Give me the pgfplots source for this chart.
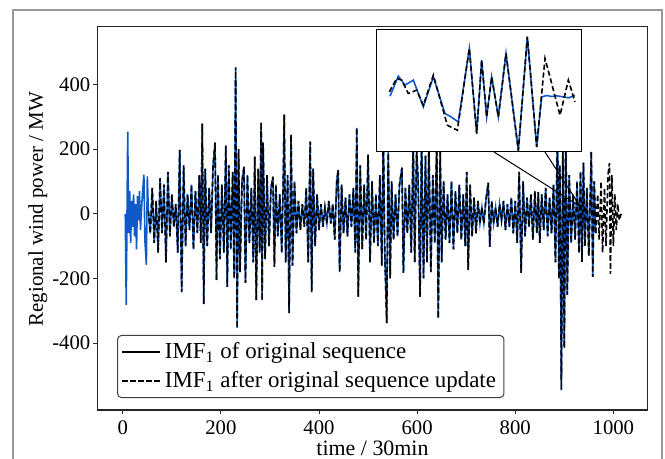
\documentclass[border=0pt]{standalone}
\usepackage{fontspec}
\setmainfont{Liberation Serif}
\usepackage{pgfplots}
\usepackage{pgfplotstable}
\pgfplotsset{compat=1.18}
\definecolor{lineblue}{RGB}{15,90,200}

\pgfplotstableread[row sep=\\]{
t y\\ 5 0\\ 7 -282\\ 10 254\\ 12 -60\\ 14 70\\ 16 -90\\ 18 40\\ 20 -40\\ 22 60\\ 24 -70\\ 26 30\\ 28 -110\\ 30 55\\ 32 -20\\ 34 70\\ 36 -50\\ 38 10\\ 40 60\\ 43 121\\ 45 -80\\ 48 -158\\ 50 116\\ 52 10\\
}\blueStart

\pgfplotstableread[row sep=\\]{
t y\\
52 10\\ 56 -60\\ 60 80\\ 64 -90\\ 68 40\\ 72 -120\\ 76 110\\ 80 -60\\ 84 90\\ 88 -150\\ 92 130\\ 96 -70\\ 100 60\\ 104 -40\\ 108 30\\ 112 -120\\ 116 198\\ 120 -242\\ 124 150\\ 128 -100\\ 132 60\\ 136 -50\\ 140 90\\ 144 -110\\ 148 70\\
152 -60\\ 156 120\\ 159 -90\\ 162 279\\ 165 -279\\ 168 140\\ 172 -100\\ 176 80\\ 180 -60\\ 184 150\\ 188 220\\ 191 -205\\ 194 120\\ 198 -140\\ 202 90\\ 206 -120\\ 210 211\\ 213 -226\\ 216 150\\ 220 -110\\ 224 130\\ 227 -200\\ 230 453\\ 233 -353\\ 236 200\\ 239 -180\\ 243 100\\ 247 146\\ 250 -214\\
254 120\\ 258 -90\\ 262 80\\ 266 -150\\ 269 177\\ 272 -267\\ 276 140\\ 279 -120\\ 282 282\\ 284 -267\\ 286 220\\ 290 -140\\ 294 120\\ 298 -100\\ 302 80\\ 306 115\\ 309 -164\\ 312 90\\ 316 -70\\ 320 60\\ 324 -120\\ 327 100\\ 329 307\\ 332 -150\\ 336 120\\ 339 -307\\ 343 245\\ 346 -160\\ 350 100\\
354 -60\\ 358 40\\ 362 -50\\ 366 30\\ 370 -40\\ 374 80\\ 378 -150\\ 382 223\\ 385 -242\\ 388 140\\ 392 -100\\ 396 60\\ 400 -50\\ 404 30\\ 408 -40\\ 412 20\\ 416 -30\\ 420 40\\ 424 -30\\ 428 30\\ 432 -80\\ 436 100\\ 439 136\\ 442 -180\\ 446 90\\ 450 -60\\
454 50\\ 458 -70\\ 462 60\\ 466 -40\\ 470 80\\ 474 -120\\ 477 266\\ 480 -257\\ 484 150\\ 488 -110\\ 492 90\\ 496 -80\\ 500 183\\ 504 -150\\ 508 100\\ 512 -90\\ 516 60\\ 520 -100\\ 524 120\\ 528 -160\\ 531 260\\ 534 -120\\ 538 -338\\ 541 200\\ 545 -200\\ 548 100\\
552 -80\\ 556 60\\ 560 -70\\ 564 90\\ 569 143\\ 572 -183\\ 576 80\\ 580 -60\\ 584 90\\ 588 -120\\ 592 230\\ 595 -150\\ 599 200\\ 602 100\\ 606 -257\\ 609 250\\ 613 -200\\ 617 180\\ 620 -150\\ 624 210\\ 628 -180\\ 632 120\\ 636 -90\\ 640 240\\ 643 -322\\ 647 200\\ 650 -150\\
654 100\\ 658 -80\\ 662 60\\ 666 -90\\ 670 100\\ 674 -110\\ 678 70\\ 682 -60\\ 686 90\\ 690 -80\\ 694 60\\ 698 -100\\ 701 130\\ 704 -174\\ 708 90\\ 712 -70\\ 716 50\\ 720 -60\\ 724 40\\ 728 -30\\ 732 20\\ 736 -30\\ 740 40\\ 745 96\\ 748 -102\\
752 40\\ 756 -30\\ 760 20\\ 764 -40\\ 768 30\\ 772 -20\\ 776 40\\ 780 -50\\ 784 30\\ 788 -40\\ 792 50\\ 796 -60\\ 800 40\\ 804 -90\\ 808 130\\ 812 -183\\ 816 100\\ 820 -70\\ 824 50\\ 828 -40\\ 832 60\\ 836 -80\\ 840 70\\ 844 -60\\ 847 68\\ 850 -90\\
854 60\\ 858 -50\\ 862 80\\ 866 -70\\ 870 50\\ 874 -60\\ 878 90\\ 882 -150\\ 886 250\\ 889 -200\\ 891 150\\ 894 -545\\ 897 200\\ 900 -415\\ 903 280\\ 906 -250\\ 910 120\\ 914 -90\\ 918 60\\ 922 -80\\ 926 100\\ 930 -120\\ 933 130\\ 936 -149\\ 939 158\\ 942 -100\\ 946 80\\ 950 -130\\ 955 192\\ 958 -195\\ 961 100\\ 964 -60\\
}\mainData

\pgfplotstableread[row sep=\\]{
t y\\ 964 -60\\ 968 60\\ 971 -80\\ 975 100\\ 978 -120\\ 982 80\\ 985 -100\\ 989 120\\ 992 157\\ 994 -186\\ 997 120\\ 1000 -100\\ 1003 60\\ 1006 -50\\ 1009 30\\ 1012 -20\\ 1016 0\\
}\dashEnd

\pgfplotstableread[row sep=\\]{
t y\\ 6.0 4\\ 8.5 124\\ 10.5 70\\ 13.0 100\\ 16.0 -60\\ 19.0 120\\ 22.5 -100\\ 24.0 -116\\ 26.5 -150\\ 29.8 290\\ 32.0 -220\\ 33.5 220\\ 35.0 -120\\ 36.5 120\\ 38.5 -120\\ 40.8 260\\ 44.5 -320\\ 47.2 360\\ 50.0 -300\\ 51.5 0\\ 53.0 8\\ 54.5 2\\ 56.0 6\\ 58.0 0\\ 59.5 -6\\ 61.5 8\\
}\insetBlue

\pgfplotstableread[row sep=\\]{
t y\\ 5.8 30\\ 8.0 110\\ 9.5 100\\ 11.5 20\\ 14.0 40\\ 16.0 -50\\ 19.0 130\\ 23.2 -170\\ 26.2 -200\\ 29.8 290\\ 32.0 -220\\ 33.5 220\\ 35.0 -120\\ 36.5 120\\ 38.5 -120\\ 40.8 260\\ 44.5 -320\\ 47.2 360\\ 50.0 -300\\ 52.5 230\\ 54.5 80\\ 57.0 -110\\ 59.5 100\\ 61.5 -30\\
}\insetDash

\begin{document}
\begin{tikzpicture}[x=1bp,y=1bp]
\useasboundingbox (0,0) rectangle (332.5,229.5);
\draw[black!40, line width=1.1bp] (6.5,-2) -- (6.5,224.5) -- (331,224.5) -- (331,-2);
\begin{axis}[
  name=main,
  at={(48.65bp,24.5bp)}, anchor=south west,
  scale only axis, width=275.2bp, height=191.65bp,
  xmin=-52, xmax=1070, ymin=-607, ymax=579,
  xtick={0,200,...,1000}, ytick={-400,-200,0,200,400},
  tick align=outside, major tick length=2bp,
  xtick pos=bottom, ytick pos=left,
  axis line style={black!85, line width=0.6bp},
  every tick/.style={black!85, line width=0.5bp},
  tick label style={font=\fontsize{10.4}{12}\selectfont},
  yticklabel style={xshift=2bp},
  /pgf/number format/assume math mode=true,
  /pgf/number format/1000 sep={},
  xlabel={time / 30min}, ylabel={Regional wind power / MW},
  xlabel style={font=\fontsize{11}{13}\selectfont, at={(axis description cs:0.5,-0.099)}, anchor=center},
  ylabel style={font=\fontsize{10.5}{12.5}\selectfont, at={(axis description cs:-0.108,0.524)}, anchor=center, rotate=0},
  legend style={at={(axis description cs:0.036,0.031)}, anchor=south west,
    font=\fontsize{11.5}{13.5}\selectfont, draw=black!75, line width=0.5bp,
    rounded corners=2bp, inner xsep=2bp, inner ysep=1.5bp, row sep=1bp},
  legend cell align=left,
  legend image code/.code={\draw[#1] (0bp,0bp) -- (19bp,0bp);},
]
\addplot[lineblue, line width=0.8bp, forget plot] table[x=t,y=y] {\blueStart};
\addplot[lineblue, line width=0.8bp, forget plot] table[x=t,y=y] {\mainData};
\addplot[black, line width=0.8bp, dash pattern=on 2.6bp off 1.4bp, forget plot] table[x=t,y=y] {\mainData};
\addplot[black, line width=0.8bp, dash pattern=on 2.6bp off 1.4bp, forget plot] table[x=t,y=y] {\dashEnd};
\addlegendimage{black, line width=0.7bp}
\addlegendentry{IMF\textsubscript{1} of original sequence}
\addlegendimage{black, line width=0.7bp, dash pattern=on 2.6bp off 1.4bp}
\addlegendentry{IMF\textsubscript{1} after original sequence update}
\coordinate (Z) at (axis cs:933,22);
\end{axis}
\draw[black, line width=0.5bp] (247,153.5) -- (Z) -- (272.5,153.5);
\begin{axis}[
  at={(188bp,153.5bp)}, anchor=south west,
  scale only axis, width=102.5bp, height=61bp,
  xmin=1.8, xmax=63.3, ymin=-330, ymax=400,
  ticks=none, axis background/.style={fill=white},
  axis line style={black, line width=0.5bp},
]
\addplot[lineblue, line width=0.8bp] table[x=t,y=y] {\insetBlue};
\addplot[black, line width=0.8bp, dash pattern=on 2.6bp off 1.4bp] table[x=t,y=y] {\insetDash};
\end{axis}
\end{tikzpicture}
\end{document}
